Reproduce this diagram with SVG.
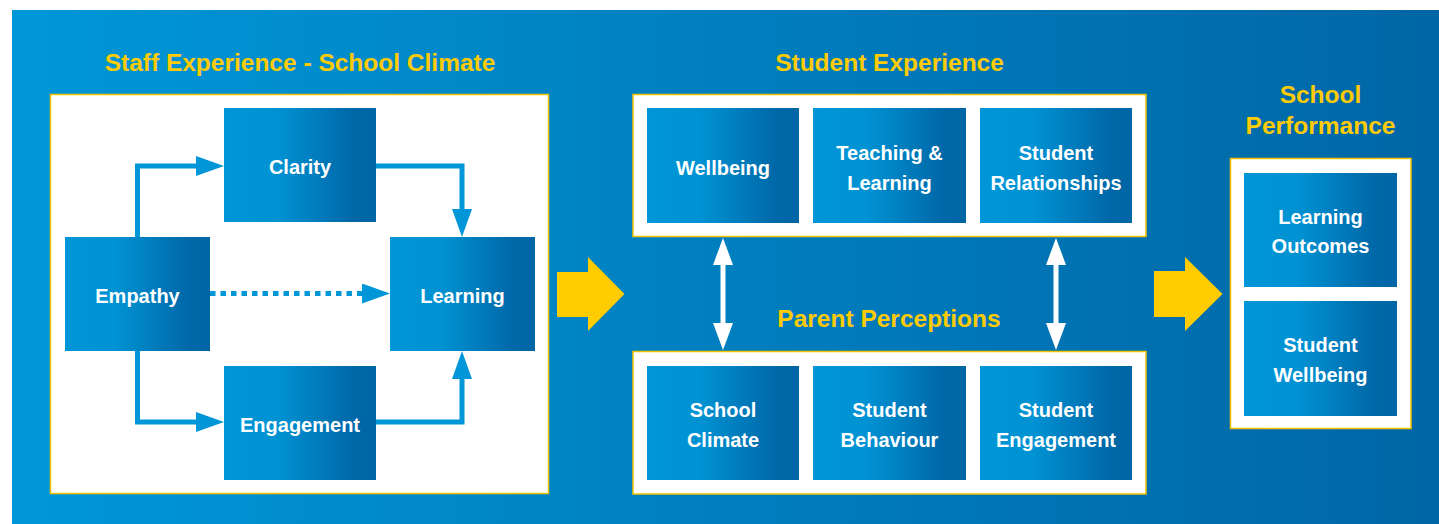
<svg xmlns="http://www.w3.org/2000/svg" width="1439" height="524" viewBox="0 0 1439 524">
<defs>
<linearGradient id="bg" gradientUnits="userSpaceOnUse" x1="12" y1="0" x2="1439" y2="0">
<stop offset="0" stop-color="#0097D8"/>
<stop offset="1" stop-color="#0066A6"/>
</linearGradient>
<linearGradient id="nodeg" x1="0" y1="0" x2="1" y2="0">
<stop offset="0" stop-color="#0096D7"/>
<stop offset="0.35" stop-color="#0092D3"/>
<stop offset="0.85" stop-color="#0068A8"/>
<stop offset="1" stop-color="#0066A5"/>
</linearGradient>
<marker id="ah" viewBox="0 0 28 20" markerWidth="28" markerHeight="20" refX="1" refY="10" orient="auto" markerUnits="userSpaceOnUse">
<path d="M0,0 L28,10 L0,20 z" fill="#0096D7"/>
</marker>
<marker id="wh" viewBox="0 0 27 20" markerWidth="27" markerHeight="20" refX="1" refY="10" orient="auto-start-reverse" markerUnits="userSpaceOnUse">
<path d="M0,0 L27,10 L0,20 z" fill="#FFFFFF"/>
</marker>
</defs>
<style>
.node{fill:url(#nodeg);}
.panel{fill:#FFFFFF;stroke:#F2C200;stroke-width:1.5;}
.lbl{font-family:"Liberation Sans",Arial,sans-serif;font-weight:bold;font-size:20px;fill:#FFFFFF;text-anchor:middle;}
.ttl{font-family:"Liberation Sans",Arial,sans-serif;font-weight:bold;font-size:24.5px;fill:#FFCB05;text-anchor:middle;}
.conn{fill:none;stroke:#0096D7;stroke-width:5;marker-end:url(#ah);}
.dbl{fill:none;stroke:#FFFFFF;stroke-width:5;marker-start:url(#wh);marker-end:url(#wh);}
.big{fill:#FFCC00;}
</style>
<rect x="12" y="10" width="1427" height="514" fill="url(#bg)"/>

<g id="titles">
<text class="ttl" x="300" y="71">Staff Experience - School Climate</text>
<text class="ttl" x="889.5" y="71">Student Experience</text>
<text class="ttl" x="889" y="327">Parent Perceptions</text>
<text class="ttl" x="1320.5" y="103">School</text>
<text class="ttl" x="1320.5" y="134">Performance</text>
</g>

<g id="panels">
<rect id="panel-staff" class="panel" x="50.5" y="94.5" width="498" height="399"/>
<rect id="panel-student" class="panel" x="633" y="94.5" width="513" height="142"/>
<rect id="panel-parent" class="panel" x="633" y="351.5" width="513" height="142.5"/>
<rect id="panel-performance" class="panel" x="1230.5" y="158.5" width="180.5" height="270"/>
</g>

<g id="connectors">
<path class="conn" d="M137.5,237 V166 H197"/>
<path class="conn" d="M376,166 H462 V210"/>
<path class="conn" d="M137.5,351 V422 H197"/>
<path class="conn" d="M376,422 H462 V378"/>
<path class="conn" d="M210,293.5 H363" stroke-dasharray="5.5 5"/>
<path class="dbl" d="M723,264 V324"/>
<path class="dbl" d="M1056,264 V324"/>
<polygon class="big" points="557,272 588,272 588,257 624.5,294 588,331 588,317 557,317"/>
<polygon class="big" points="1154,271 1185,271 1185,257 1222.5,294 1185,331 1185,317 1154,317"/>
</g>

<g id="clarity"><rect class="node" x="224" y="108" width="152" height="114"/><text class="lbl" x="300" y="174">Clarity</text></g>
<g id="empathy"><rect class="node" x="65" y="237" width="145" height="114"/><text class="lbl" x="137.5" y="302.5">Empathy</text></g>
<g id="learning"><rect class="node" x="390" y="237" width="145" height="114"/><text class="lbl" x="462.5" y="302.5">Learning</text></g>
<g id="engagement"><rect class="node" x="224" y="366" width="152" height="114"/><text class="lbl" x="300" y="431.5">Engagement</text></g>

<g id="wellbeing"><rect class="node" x="647" y="108" width="152" height="115"/><text class="lbl" x="723" y="175">Wellbeing</text></g>
<g id="teaching-learning"><rect class="node" x="813" y="108" width="153" height="115"/><text class="lbl" x="889.5" y="160">Teaching &amp;</text><text class="lbl" x="889.5" y="189.5">Learning</text></g>
<g id="student-relationships"><rect class="node" x="980" y="108" width="152" height="115"/><text class="lbl" x="1056" y="160">Student</text><text class="lbl" x="1056" y="189.5">Relationships</text></g>

<g id="school-climate"><rect class="node" x="647" y="366" width="152" height="114"/><text class="lbl" x="723" y="417">School</text><text class="lbl" x="723" y="446.5">Climate</text></g>
<g id="student-behaviour"><rect class="node" x="813" y="366" width="153" height="114"/><text class="lbl" x="889.5" y="417">Student</text><text class="lbl" x="889.5" y="446.5">Behaviour</text></g>
<g id="student-engagement"><rect class="node" x="980" y="366" width="152" height="114"/><text class="lbl" x="1056" y="417">Student</text><text class="lbl" x="1056" y="446.5">Engagement</text></g>

<g id="learning-outcomes"><rect class="node" x="1244" y="173" width="153" height="114"/><text class="lbl" x="1320.5" y="223.5">Learning</text><text class="lbl" x="1320.5" y="253">Outcomes</text></g>
<g id="student-wellbeing"><rect class="node" x="1244" y="301" width="153" height="115"/><text class="lbl" x="1320.5" y="352">Student</text><text class="lbl" x="1320.5" y="381.5">Wellbeing</text></g>
</svg>
